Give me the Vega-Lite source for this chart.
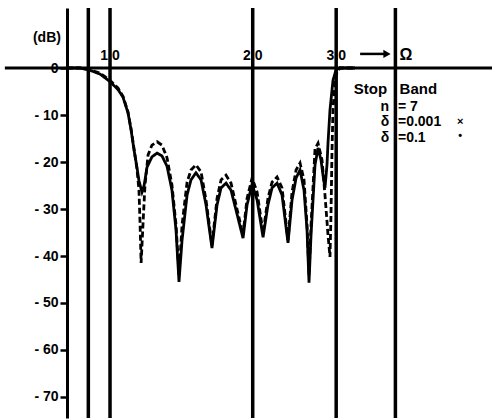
{
  "$schema": "https://vega.github.io/schema/vega-lite/v6.json",
  "width": 425,
  "height": 410,
  "autosize": {"type": "none"},
  "padding": {"left": 67, "top": 8, "right": 0, "bottom": 2},
  "background": "white",
  "config": {
    "view": {"stroke": null},
    "font": "Liberation Sans",
    "axisY": {
      "domainWidth": 3, "domainColor": "black", "tickWidth": 2.5, "tickColor": "black",
      "tickSize": 7, "labelFont": "Liberation Sans", "labelFontWeight": "bold",
      "labelFontSize": 14, "labelColor": "black", "labelPadding": 2, "grid": false,
      "labelExpr": "datum.value > 0 ? '' : datum.value == 0 ? '0' : '- ' + abs(datum.value)"
    }
  },
  "datasets": {
    "curves": [
      {"f": 0.811, "dB": 0, "series": "δ=0.1"},
      {"f": 0.864, "dB": 0, "series": "δ=0.1"},
      {"f": 0.903, "dB": -0.4, "series": "δ=0.1"},
      {"f": 0.953, "dB": -1.3, "series": "δ=0.1"},
      {"f": 1.0, "dB": -2.9, "series": "δ=0.1"},
      {"f": 1.040, "dB": -4.6, "series": "δ=0.1"},
      {"f": 1.065, "dB": -6.2, "series": "δ=0.1"},
      {"f": 1.091, "dB": -9.5, "series": "δ=0.1"},
      {"f": 1.107, "dB": -13.0, "series": "δ=0.1"},
      {"f": 1.124, "dB": -17.5, "series": "δ=0.1"},
      {"f": 1.140, "dB": -21.2, "series": "δ=0.1"},
      {"f": 1.151, "dB": -24.0, "series": "δ=0.1"},
      {"f": 1.168, "dB": -26.4, "series": "δ=0.1"},
      {"f": 1.180, "dB": -25.0, "series": "δ=0.1"},
      {"f": 1.197, "dB": -21.1, "series": "δ=0.1"},
      {"f": 1.226, "dB": -18.9, "series": "δ=0.1"},
      {"f": 1.257, "dB": -18.1, "series": "δ=0.1"},
      {"f": 1.287, "dB": -18.7, "series": "δ=0.1"},
      {"f": 1.319, "dB": -20.9, "series": "δ=0.1"},
      {"f": 1.351, "dB": -26.0, "series": "δ=0.1"},
      {"f": 1.378, "dB": -34.5, "series": "δ=0.1"},
      {"f": 1.398, "dB": -45.5, "series": "δ=0.1"},
      {"f": 1.419, "dB": -36.6, "series": "δ=0.1"},
      {"f": 1.454, "dB": -27.0, "series": "δ=0.1"},
      {"f": 1.482, "dB": -23.8, "series": "δ=0.1"},
      {"f": 1.518, "dB": -22.3, "series": "δ=0.1"},
      {"f": 1.556, "dB": -23.8, "series": "δ=0.1"},
      {"f": 1.594, "dB": -29.1, "series": "δ=0.1"},
      {"f": 1.641, "dB": -38.3, "series": "δ=0.1"},
      {"f": 1.682, "dB": -29.1, "series": "δ=0.1"},
      {"f": 1.715, "dB": -25.5, "series": "δ=0.1"},
      {"f": 1.757, "dB": -24.5, "series": "δ=0.1"},
      {"f": 1.800, "dB": -26.0, "series": "δ=0.1"},
      {"f": 1.844, "dB": -30.2, "series": "δ=0.1"},
      {"f": 1.908, "dB": -36.2, "series": "δ=0.1"},
      {"f": 1.946, "dB": -29.1, "series": "δ=0.1"},
      {"f": 1.994, "dB": -24.7, "series": "δ=0.1"},
      {"f": 2.043, "dB": -28.1, "series": "δ=0.1"},
      {"f": 2.103, "dB": -36.0, "series": "δ=0.1"},
      {"f": 2.154, "dB": -29.1, "series": "δ=0.1"},
      {"f": 2.197, "dB": -25.5, "series": "δ=0.1"},
      {"f": 2.251, "dB": -24.5, "series": "δ=0.1"},
      {"f": 2.306, "dB": -27.0, "series": "δ=0.1"},
      {"f": 2.374, "dB": -37.2, "series": "δ=0.1"},
      {"f": 2.421, "dB": -28.1, "series": "δ=0.1"},
      {"f": 2.469, "dB": -23.4, "series": "δ=0.1"},
      {"f": 2.517, "dB": -21.7, "series": "δ=0.1"},
      {"f": 2.566, "dB": -26.0, "series": "δ=0.1"},
      {"f": 2.604, "dB": -34.5, "series": "δ=0.1"},
      {"f": 2.629, "dB": -45.7, "series": "δ=0.1"},
      {"f": 2.655, "dB": -35.5, "series": "δ=0.1"},
      {"f": 2.707, "dB": -20.6, "series": "δ=0.1"},
      {"f": 2.747, "dB": -17.0, "series": "δ=0.1"},
      {"f": 2.787, "dB": -19.6, "series": "δ=0.1"},
      {"f": 2.814, "dB": -22.8, "series": "δ=0.1"},
      {"f": 2.841, "dB": -25.5, "series": "δ=0.1"},
      {"f": 2.869, "dB": -20.6, "series": "δ=0.1"},
      {"f": 2.883, "dB": -16.0, "series": "δ=0.1"},
      {"f": 2.911, "dB": -8.9, "series": "δ=0.1"},
      {"f": 2.954, "dB": -2.6, "series": "δ=0.1"},
      {"f": 2.998, "dB": -0.4, "series": "δ=0.1"},
      {"f": 3.056, "dB": 0, "series": "δ=0.1"},
      {"f": 3.287, "dB": 0, "series": "δ=0.1"},
      {"f": 0.811, "dB": 0, "series": "δ=0.001"},
      {"f": 0.864, "dB": 0, "series": "δ=0.001"},
      {"f": 0.903, "dB": -0.3, "series": "δ=0.001"},
      {"f": 0.953, "dB": -1.1, "series": "δ=0.001"},
      {"f": 1.0, "dB": -2.6, "series": "δ=0.001"},
      {"f": 1.040, "dB": -4.3, "series": "δ=0.001"},
      {"f": 1.065, "dB": -6.0, "series": "δ=0.001"},
      {"f": 1.091, "dB": -9.3, "series": "δ=0.001"},
      {"f": 1.107, "dB": -12.8, "series": "δ=0.001"},
      {"f": 1.124, "dB": -17.3, "series": "δ=0.001"},
      {"f": 1.140, "dB": -21.5, "series": "δ=0.001"},
      {"f": 1.151, "dB": -26.0, "series": "δ=0.001"},
      {"f": 1.157, "dB": -33.0, "series": "δ=0.001"},
      {"f": 1.163, "dB": -41.5, "series": "δ=0.001"},
      {"f": 1.174, "dB": -33.0, "series": "δ=0.001"},
      {"f": 1.185, "dB": -25.0, "series": "δ=0.001"},
      {"f": 1.203, "dB": -18.5, "series": "δ=0.001"},
      {"f": 1.226, "dB": -16.4, "series": "δ=0.001"},
      {"f": 1.257, "dB": -15.7, "series": "δ=0.001"},
      {"f": 1.287, "dB": -16.4, "series": "δ=0.001"},
      {"f": 1.319, "dB": -19.1, "series": "δ=0.001"},
      {"f": 1.351, "dB": -24.9, "series": "δ=0.001"},
      {"f": 1.378, "dB": -33.4, "series": "δ=0.001"},
      {"f": 1.398, "dB": -44.0, "series": "δ=0.001"},
      {"f": 1.419, "dB": -33.4, "series": "δ=0.001"},
      {"f": 1.454, "dB": -24.3, "series": "δ=0.001"},
      {"f": 1.482, "dB": -21.7, "series": "δ=0.001"},
      {"f": 1.518, "dB": -20.6, "series": "δ=0.001"},
      {"f": 1.556, "dB": -22.1, "series": "δ=0.001"},
      {"f": 1.594, "dB": -28.1, "series": "δ=0.001"},
      {"f": 1.641, "dB": -37.7, "series": "δ=0.001"},
      {"f": 1.682, "dB": -27.7, "series": "δ=0.001"},
      {"f": 1.715, "dB": -23.8, "series": "δ=0.001"},
      {"f": 1.757, "dB": -22.8, "series": "δ=0.001"},
      {"f": 1.800, "dB": -24.5, "series": "δ=0.001"},
      {"f": 1.844, "dB": -29.1, "series": "δ=0.001"},
      {"f": 1.908, "dB": -35.5, "series": "δ=0.001"},
      {"f": 1.946, "dB": -27.7, "series": "δ=0.001"},
      {"f": 1.994, "dB": -23.4, "series": "δ=0.001"},
      {"f": 2.043, "dB": -26.4, "series": "δ=0.001"},
      {"f": 2.103, "dB": -35.1, "series": "δ=0.001"},
      {"f": 2.154, "dB": -27.7, "series": "δ=0.001"},
      {"f": 2.197, "dB": -24.3, "series": "δ=0.001"},
      {"f": 2.251, "dB": -23.2, "series": "δ=0.001"},
      {"f": 2.306, "dB": -25.5, "series": "δ=0.001"},
      {"f": 2.374, "dB": -36.6, "series": "δ=0.001"},
      {"f": 2.421, "dB": -26.4, "series": "δ=0.001"},
      {"f": 2.469, "dB": -21.7, "series": "δ=0.001"},
      {"f": 2.517, "dB": -20.2, "series": "δ=0.001"},
      {"f": 2.566, "dB": -23.8, "series": "δ=0.001"},
      {"f": 2.604, "dB": -33.4, "series": "δ=0.001"},
      {"f": 2.629, "dB": -44.0, "series": "δ=0.001"},
      {"f": 2.655, "dB": -33.4, "series": "δ=0.001"},
      {"f": 2.707, "dB": -17.2, "series": "δ=0.001"},
      {"f": 2.747, "dB": -16.0, "series": "δ=0.001"},
      {"f": 2.801, "dB": -19.6, "series": "δ=0.001"},
      {"f": 2.841, "dB": -27.0, "series": "δ=0.001"},
      {"f": 2.883, "dB": -35.5, "series": "δ=0.001"},
      {"f": 2.911, "dB": -40.2, "series": "δ=0.001"},
      {"f": 2.925, "dB": -31.3, "series": "δ=0.001"},
      {"f": 2.940, "dB": -17.4, "series": "δ=0.001"},
      {"f": 2.954, "dB": -8.9, "series": "δ=0.001"},
      {"f": 2.983, "dB": -2.6, "series": "δ=0.001"},
      {"f": 3.012, "dB": -0.9, "series": "δ=0.001"},
      {"f": 3.056, "dB": 0, "series": "δ=0.001"},
      {"f": 3.287, "dB": 0, "series": "δ=0.001"}
    ]
  },
  "layer": [
    {
      "data": {"values": [{"f": 0.9}, {"f": 1}, {"f": 2}, {"f": 3}, {"f": 4}]},
      "mark": {"type": "rule", "color": "black", "strokeWidth": 3.5},
      "encoding": {
        "x": {"field": "f", "type": "quantitative", "scale": {"type": "log", "domain": [0.8114, 6.395], "nice": false}, "axis": null}
      }
    },
    {
      "data": {"values": [{"f": 0.6, "f2": 6.4, "dB": 0}]},
      "mark": {"type": "rule", "color": "black", "strokeWidth": 3, "clip": false},
      "encoding": {
        "x": {"field": "f", "type": "quantitative", "scale": {"type": "log", "domain": [0.8114, 6.395], "nice": false}, "axis": null},
        "x2": {"field": "f2"},
        "y": {"field": "dB", "type": "quantitative", "scale": {"domain": [-74.47, 12.77], "nice": false, "zero": false}, "title": null, "axis": {"values": [0, -10, -20, -30, -40, -50, -60, -70]}}
      }
    },
    {
      "data": {"name": "curves"},
      "mark": {"type": "line", "color": "black", "strokeWidth": 2.8},
      "encoding": {
        "x": {"field": "f", "type": "quantitative", "scale": {"type": "log", "domain": [0.8114, 6.395], "nice": false}, "axis": null},
        "y": {"field": "dB", "type": "quantitative", "scale": {"domain": [-74.47, 12.77], "nice": false, "zero": false}, "title": null, "axis": {"values": [0, -10, -20, -30, -40, -50, -60, -70]}},
        "strokeDash": {"field": "series", "type": "nominal", "scale": {"domain": ["δ=0.1", "δ=0.001"], "range": [[1, 0], [6, 3]]}, "legend": null}
      }
    },
    {
      "data": {"values": [{"f": 1, "dB": 0, "t": "1.0"}, {"f": 2, "dB": 0, "t": "2.0"}, {"f": 3, "dB": 0, "t": "3.0"}]},
      "mark": {"type": "text", "fontSize": 14, "fontWeight": "bold", "baseline": "bottom", "align": "center", "dy": -5, "color": "black"},
      "encoding": {
        "x": {"field": "f", "type": "quantitative", "scale": {"type": "log", "domain": [0.8114, 6.395], "nice": false}, "axis": null},
        "y": {"field": "dB", "type": "quantitative", "scale": {"domain": [-74.47, 12.77], "nice": false, "zero": false}, "title": null, "axis": {"values": [0, -10, -20, -30, -40, -50, -60, -70]}},
        "text": {"field": "t"}
      }
    },
    {
      "data": {"values": [{"f": 4.21, "dB": 0, "t": "Ω"}]},
      "mark": {"type": "text", "fontSize": 16, "fontWeight": "bold", "baseline": "bottom", "align": "center", "dy": -5, "color": "black"},
      "encoding": {
        "x": {"field": "f", "type": "quantitative", "scale": {"type": "log", "domain": [0.8114, 6.395], "nice": false}, "axis": null},
        "y": {"field": "dB", "type": "quantitative", "scale": {"domain": [-74.47, 12.77], "nice": false, "zero": false}, "title": null, "axis": {"values": [0, -10, -20, -30, -40, -50, -60, -70]}},
        "text": {"field": "t"}
      }
    },
    {
      "data": {"values": [{"f": 3.37, "f2": 3.8, "dB": 3.0}]},
      "mark": {"type": "rule", "color": "black", "strokeWidth": 2.5},
      "encoding": {
        "x": {"field": "f", "type": "quantitative", "scale": {"type": "log", "domain": [0.8114, 6.395], "nice": false}, "axis": null},
        "x2": {"field": "f2"},
        "y": {"field": "dB", "type": "quantitative", "scale": {"domain": [-74.47, 12.77], "nice": false, "zero": false}, "title": null, "axis": {"values": [0, -10, -20, -30, -40, -50, -60, -70]}}
      }
    },
    {
      "data": {"values": [{"f": 3.84, "dB": 3.0}]},
      "mark": {"type": "point", "shape": "triangle-right", "filled": true, "color": "black", "size": 70, "opacity": 1},
      "encoding": {
        "x": {"field": "f", "type": "quantitative", "scale": {"type": "log", "domain": [0.8114, 6.395], "nice": false}, "axis": null},
        "y": {"field": "dB", "type": "quantitative", "scale": {"domain": [-74.47, 12.77], "nice": false, "zero": false}, "title": null, "axis": {"values": [0, -10, -20, -30, -40, -50, -60, -70]}}
      }
    },
    {
      "data": {"values": [{"f": 0.736, "dB": 6.4, "t": "(dB)"}]},
      "mark": {"type": "text", "fontSize": 14, "fontWeight": "bold", "baseline": "middle", "align": "center", "color": "black", "clip": false},
      "encoding": {
        "x": {"field": "f", "type": "quantitative", "scale": {"type": "log", "domain": [0.8114, 6.395], "nice": false}, "axis": null},
        "y": {"field": "dB", "type": "quantitative", "scale": {"domain": [-74.47, 12.77], "nice": false, "zero": false}, "title": null, "axis": {"values": [0, -10, -20, -30, -40, -50, -60, -70]}},
        "text": {"field": "t"}
      }
    },
    {
      "data": {"values": [{"f": 4.0, "dB": -4.5, "t": "Stop\u00a0\u00a0\u00a0Band"}]},
      "mark": {"type": "text", "fontSize": 15, "fontWeight": "bold", "baseline": "middle", "align": "center", "color": "black"},
      "encoding": {
        "x": {"field": "f", "type": "quantitative", "scale": {"type": "log", "domain": [0.8114, 6.395], "nice": false}, "axis": null},
        "y": {"field": "dB", "type": "quantitative", "scale": {"domain": [-74.47, 12.77], "nice": false, "zero": false}, "title": null, "axis": {"values": [0, -10, -20, -30, -40, -50, -60, -70]}},
        "text": {"field": "t"}
      }
    },
    {
      "data": {"values": [{"f": 3.88, "dB": -8.3, "t": "n"}, {"f": 3.88, "dB": -11.5, "t": "δ"}, {"f": 3.88, "dB": -14.9, "t": "δ"}]},
      "mark": {"type": "text", "fontSize": 14, "fontWeight": "bold", "baseline": "middle", "align": "right", "color": "black"},
      "encoding": {
        "x": {"field": "f", "type": "quantitative", "scale": {"type": "log", "domain": [0.8114, 6.395], "nice": false}, "axis": null},
        "y": {"field": "dB", "type": "quantitative", "scale": {"domain": [-74.47, 12.77], "nice": false, "zero": false}, "title": null, "axis": {"values": [0, -10, -20, -30, -40, -50, -60, -70]}},
        "text": {"field": "t"}
      }
    },
    {
      "data": {"values": [{"f": 4.05, "dB": -8.3, "t": "= 7"}, {"f": 4.05, "dB": -11.5, "t": "=0.001"}, {"f": 4.05, "dB": -14.9, "t": "=0.1"}]},
      "mark": {"type": "text", "fontSize": 14, "fontWeight": "bold", "baseline": "middle", "align": "left", "color": "black"},
      "encoding": {
        "x": {"field": "f", "type": "quantitative", "scale": {"type": "log", "domain": [0.8114, 6.395], "nice": false}, "axis": null},
        "y": {"field": "dB", "type": "quantitative", "scale": {"domain": [-74.47, 12.77], "nice": false, "zero": false}, "title": null, "axis": {"values": [0, -10, -20, -30, -40, -50, -60, -70]}},
        "text": {"field": "t"}
      }
    },
    {
      "data": {"values": [{"f": 5.48, "dB": -11.5, "t": "×"}, {"f": 5.48, "dB": -14.5, "t": "•"}]},
      "mark": {"type": "text", "fontSize": 11, "fontWeight": "bold", "baseline": "middle", "align": "center", "color": "black"},
      "encoding": {
        "x": {"field": "f", "type": "quantitative", "scale": {"type": "log", "domain": [0.8114, 6.395], "nice": false}, "axis": null},
        "y": {"field": "dB", "type": "quantitative", "scale": {"domain": [-74.47, 12.77], "nice": false, "zero": false}, "title": null, "axis": {"values": [0, -10, -20, -30, -40, -50, -60, -70]}},
        "text": {"field": "t"}
      }
    }
  ]
}
